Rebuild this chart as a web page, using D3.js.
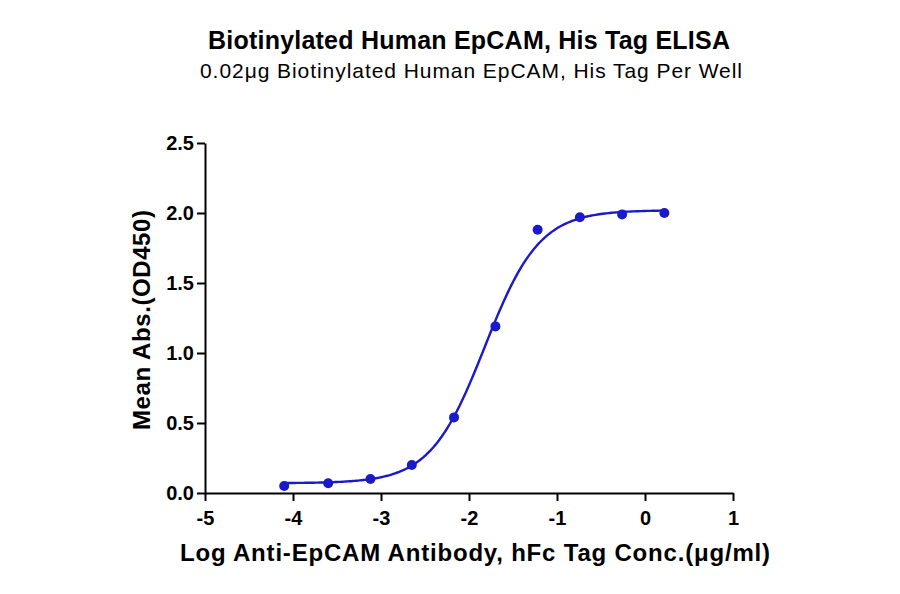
<!DOCTYPE html>
<html><head><meta charset="utf-8">
<script src="https://cdn.jsdelivr.net/npm/d3@7"></script>
<style>body{margin:0;background:#fff}</style></head>
<body><svg id="c" width="900" height="594"></svg>
<script>
const logConc=[-4.1,-3.6,-3.12,-2.65,-2.17,-1.7,-1.22,-0.74,-0.26,0.22];
const absVals=[0.05,0.07,0.1,0.2,0.54,1.19,1.88,1.97,1.99,2.0];
const xTicks=[-5,-4,-3,-2,-1,0,1];
const yTicks=[0,0.5,1,1.5,2,2.5];
const fit={bottom:0.07,top:2.02,logEC50:-1.82,hill:1.4};
const svg=d3.select("#c");
const x=d3.scaleLinear().domain([-5,1]).range([205,733]);
const y=d3.scaleLinear().domain([0,2.5]).range([493,143]);
const font="Arial, Liberation Sans, sans-serif";
svg.append("text").attr("x",469).attr("y",49).attr("text-anchor","middle").attr("font-family",font).attr("font-weight","bold").attr("font-size",25).attr("textLength",522).text("Biotinylated Human EpCAM, His Tag ELISA");
svg.append("text").attr("x",471).attr("y",78).attr("text-anchor","middle").attr("font-family",font).attr("font-size",21).attr("textLength",542).text("0.02μg Biotinylated Human EpCAM, His Tag Per Well");
const xa=svg.append("g").attr("transform","translate(0,493)").call(d3.axisBottom(x).tickValues(xTicks).tickSize(8).tickSizeOuter(0).tickFormat(d=>String(d)));
const ya=svg.append("g").attr("transform","translate(205,0)").call(d3.axisLeft(y).tickValues(yTicks).tickSize(8).tickSizeOuter(0).tickFormat(d3.format(".1f")));
[xa,ya].forEach(a=>{a.selectAll("path,line").attr("stroke","#000").attr("stroke-width",2);a.selectAll("text").attr("font-family",font).attr("font-size",20).attr("font-weight","bold").attr("fill","#000");});
xa.selectAll("text").attr("dy","1.05em");
svg.append("text").attr("x",475).attr("y",561).attr("text-anchor","middle").attr("font-family",font).attr("font-weight","bold").attr("font-size",24).attr("textLength",590).text("Log Anti-EpCAM Antibody, hFc Tag Conc.(μg/ml)");
svg.append("text").attr("transform","translate(150,320) rotate(-90)").attr("text-anchor","middle").attr("font-family",font).attr("font-weight","bold").attr("font-size",24).attr("textLength",220).text("Mean Abs.(OD450)");
const f=v=>fit.bottom+(fit.top-fit.bottom)/(1+Math.pow(10,(fit.logEC50-v)*fit.hill));
const xs=d3.range(-4.1,0.2201,0.02);
svg.append("path").datum(xs).attr("fill","none").attr("stroke","#1a1ac8").attr("stroke-width",2.4)
 .attr("d",d3.line().x(d=>x(d)).y(d=>y(f(d))));
svg.selectAll("circle").data(logConc).join("circle").attr("cx",d=>x(d)).attr("cy",(d,i)=>y(absVals[i])).attr("r",5).attr("fill","#1a1ac8");
</script></body></html>
